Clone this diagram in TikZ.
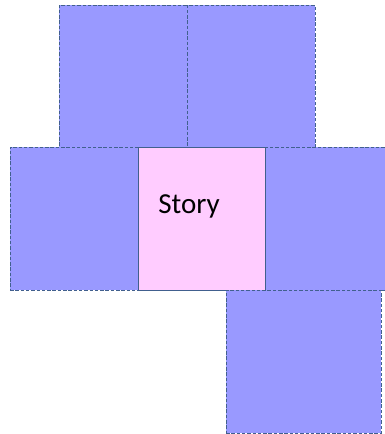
\documentclass[tikz,border=0pt]{standalone}
\usepackage{fontspec}
\setmainfont{Carlito}
\usepackage{tikz}

\definecolor{boxblue}{HTML}{9999FF}
\definecolor{boxpink}{HTML}{FFCCFF}
\definecolor{boxline}{HTML}{41608E}

\begin{document}
\begin{tikzpicture}[
x=1pt, y=-1pt,
square/.style={rectangle, inner sep=0pt, outer sep=0pt, minimum width=128pt, minimum height=143pt},
bluesquare/.style={square, fill=boxblue, draw=boxline, line width=1pt, dash pattern=on 3.5pt off 1.8pt},
pinksquare/.style={square, fill=boxpink, draw=boxline, line width=1pt, minimum width=127pt},
fontnode/.style={font=\fontsize{29}{35}\selectfont, inner sep=0pt}
]

\useasboundingbox (0,0) rectangle (385,434);

%%%% TOP ROW

\node[bluesquare, minimum height=142pt](TL) at (123,76){};
\node[bluesquare, minimum height=142pt](TR) at (251,76){};

%%%% MIDDLE ROW

\node[bluesquare, minimum width=150pt](MR) at (340,218.5){};
\node[pinksquare](STORY) at (201.5,218.5){};
\node[bluesquare](ML) at (74,218.5){};
\path (189,213)node[fontnode, anchor=base](storytext){Story};

%%%% BOTTOM

\node[bluesquare, minimum width=155pt](B) at (303.5,361.5){};

\end{tikzpicture}
\end{document}
